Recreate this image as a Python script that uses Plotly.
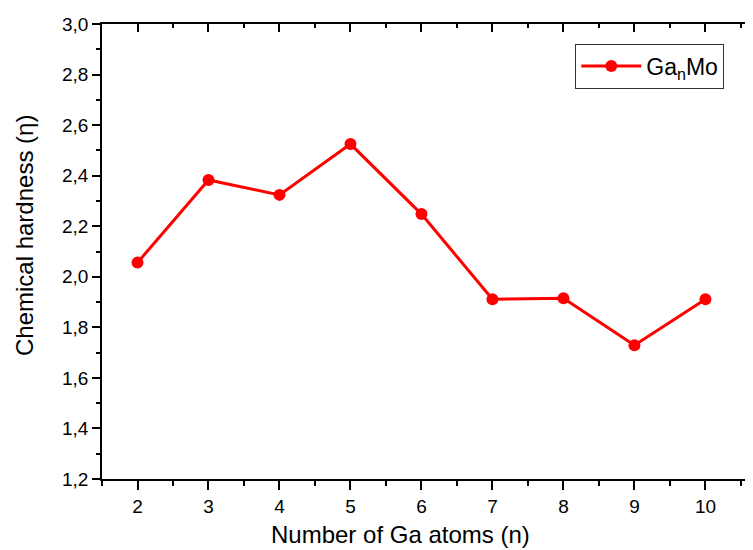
import plotly.graph_objects as go

n_atoms = [2, 3, 4, 5, 6, 7, 8, 9, 10]
hardness = [2.056, 2.383, 2.324, 2.525, 2.248, 1.911, 1.915, 1.729, 1.911]
series_name = "Ga<sub>n</sub>Mo"
x_title = "Number of Ga atoms (n)"
y_title = "Chemical hardness (η)"

font_family = "Liberation Sans, Arial, sans-serif"

fig = go.Figure()
fig.add_trace(go.Scatter(
    x=n_atoms, y=hardness, mode="lines+markers", name=series_name,
    line=dict(color="#ff0000", width=3),
    marker=dict(color="#ff0000", size=12),
))
# invisible trace to activate mirrored axes
fig.add_trace(go.Scatter(x=[n_atoms[0]], y=[hardness[0]], xaxis="x2", yaxis="y2",
                         mode="markers", marker=dict(opacity=0), showlegend=False,
                         hoverinfo="skip"))

xr = [1.5, 10.67]
yr = [1.2, 3.0]

fig.update_layout(
    width=745, height=542,
    margin=dict(l=94, r=0, t=16, b=71),
    paper_bgcolor="white", plot_bgcolor="white",
    separators=",.",
    font=dict(family=font_family, color="black"),
    showlegend=True,
    legend=dict(x=0.727, y=0.957, xanchor="left", yanchor="top",
                bordercolor="#333333", borderwidth=1, bgcolor="white",
                font=dict(size=23, family=font_family), itemwidth=60,
                tracegroupgap=0),
    xaxis=dict(range=xr, tickmode="array", tickvals=n_atoms,
               showline=True, linecolor="black", linewidth=1.5,
               ticks="outside", ticklen=9, tickwidth=1.5, tickcolor="black",
               minor=dict(dtick=0.5, tick0=1.5, ticks="outside", ticklen=5,
                          tickwidth=1.5, tickcolor="black"),
               showgrid=False, zeroline=False,
               tickfont=dict(size=19)),
    yaxis=dict(range=yr, tickmode="linear", tick0=1.2, dtick=0.2, tickformat=".1f",
               showline=True, linecolor="black", linewidth=1.5,
               ticks="outside", ticklen=8, tickwidth=1.5, tickcolor="black",
               minor=dict(dtick=0.1, tick0=1.2, ticks="outside", ticklen=4,
                          tickwidth=1.5, tickcolor="black"),
               showgrid=False, zeroline=False,
               tickfont=dict(size=19)),
    xaxis2=dict(range=xr, overlaying="x", side="top", tickmode="array", tickvals=n_atoms,
                showline=True, linecolor="black", linewidth=1.5,
                ticks="inside", ticklen=8, tickwidth=1.5, tickcolor="black",
                minor=dict(dtick=0.5, tick0=1.5, ticks="inside", ticklen=4,
                           tickwidth=1.5, tickcolor="black"),
                showticklabels=False, showgrid=False, zeroline=False),
    yaxis2=dict(range=yr, overlaying="y", side="right", tickmode="linear", tick0=1.2, dtick=0.2,
                showline=False, ticks="inside", ticklen=4, tickwidth=1.5, tickcolor="black",
                showticklabels=False, showgrid=False, zeroline=False),
    annotations=[
        dict(text=x_title, xref="paper", yref="paper", x=0.459, y=-0.122,
             xanchor="center", yanchor="middle", showarrow=False,
             font=dict(size=24, family=font_family, color="black")),
        dict(text=y_title, xref="paper", yref="paper", x=-0.1198, y=0.534,
             xanchor="center", yanchor="middle", showarrow=False, textangle=-90,
             font=dict(size=24, family=font_family, color="black")),
    ],
)

fig.write_html("out.html")
